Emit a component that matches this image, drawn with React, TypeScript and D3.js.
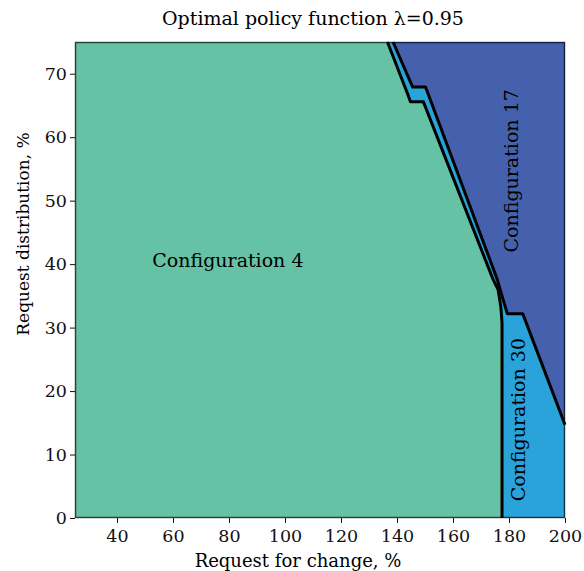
import React, { useEffect, useRef } from "react";
import * as d3 from "d3";

// axis ticks
const xTicks = [40, 60, 80, 100, 120, 140, 160, 180, 200];
const yTicks = [0, 10, 20, 30, 40, 50, 60, 70];

// boundary between Configuration 4 and Configuration 30
const edge4X = [136.6, 143.8, 144.8, 149.4, 174.3, 176.1, 177.1, 177.5, 177.5];
const edge4Y = [75, 66.8, 65.6, 65.6, 37.6, 36.0, 33.2, 30.8, 0];

// boundary between Configuration 30 and Configuration 17
const edge17X = [138.6, 145.6, 150.2, 175.8, 177.9, 179.4, 184.9, 200];
const edge17Y = [75, 67.9, 67.9, 37.6, 34.4, 32.2, 32.2, 14.7];

const regionNames = ["Configuration 4", "Configuration 17", "Configuration 30"];
const regionColors = ["#66c2a5", "#4560ad", "#2aa2da"];

const App = () => {
  const ref = useRef<SVGSVGElement>(null);

  useEffect(() => {
    const svg = d3.select(ref.current);
    svg.selectAll("*").remove();

    const width = 584, height = 571;
    const margin = { top: 42, right: 19, bottom: 53, left: 75 };
    const innerW = width - margin.left - margin.right;
    const innerH = height - margin.top - margin.bottom;
    const font = "'DejaVu Serif', serif";

    svg.attr("width", width).attr("height", height);

    const x = d3.scaleLinear().domain([25, 200]).range([0, innerW]);
    const y = d3.scaleLinear().domain([0, 75]).range([innerH, 0]);

    const g = svg.append("g")
      .attr("transform", `translate(${margin.left},${margin.top})`);

    const edge4 = edge4X.map((v, i) => [v, edge4Y[i]] as [number, number]);
    const edge17 = edge17X.map((v, i) => [v, edge17Y[i]] as [number, number]);

    const line = d3.line<[number, number]>().x(d => x(d[0])).y(d => y(d[1]));

    // Configuration 30 fills the background
    g.append("rect")
      .attr("width", innerW).attr("height", innerH)
      .attr("fill", regionColors[2]);

    // Configuration 4, left of its boundary
    const green: [number, number][] = [[25, 0], [25, 75], ...edge4];
    g.append("path").attr("d", line(green) + "Z").attr("fill", regionColors[0]);

    // Configuration 17, upper right
    const blue: [number, number][] = [...edge17, [200, 75]];
    g.append("path").attr("d", line(blue) + "Z").attr("fill", regionColors[1]);

    // contour lines
    [edge4, edge17].forEach(e => {
      g.append("path")
        .attr("d", line(e))
        .attr("fill", "none")
        .attr("stroke", "#000")
        .attr("stroke-width", 3)
        .attr("stroke-linejoin", "round");
    });

    // frame
    g.append("rect")
      .attr("x", 0.5).attr("y", 0.5)
      .attr("width", innerW - 1).attr("height", innerH - 1)
      .attr("fill", "none")
      .attr("stroke", "#000")
      .attr("stroke-opacity", 0.65)
      .attr("stroke-width", 1.5);

    // axes
    const xAxis = g.append("g")
      .attr("transform", `translate(0,${innerH})`)
      .call(d3.axisBottom(x).tickValues(xTicks).tickSize(5).tickSizeOuter(0));
    const yAxis = g.append("g")
      .call(d3.axisLeft(y).tickValues(yTicks).tickSize(5).tickSizeOuter(0));
    [xAxis, yAxis].forEach(a => {
      a.select(".domain").remove();
      a.selectAll("line").attr("stroke", "#111");
      a.selectAll("text")
        .attr("font-family", font)
        .attr("font-size", 17.5)
        .attr("fill", "#111");
    });
    xAxis.selectAll("text").attr("dy", "0.9em");

    // region labels
    g.append("text")
      .attr("x", x(79.6)).attr("y", y(39.6))
      .attr("text-anchor", "middle")
      .attr("font-family", font).attr("font-size", 19)
      .text(regionNames[0]);
    g.append("text")
      .attr("transform", `translate(${x(183.1)},${y(54.7)}) rotate(-90)`)
      .attr("text-anchor", "middle")
      .attr("font-family", font).attr("font-size", 19)
      .text(regionNames[1]);
    g.append("text")
      .attr("transform", `translate(${x(185.7)},${y(15.5)}) rotate(-90)`)
      .attr("text-anchor", "middle")
      .attr("font-family", font).attr("font-size", 19)
      .text(regionNames[2]);

    // titles
    svg.append("text")
      .attr("x", 313).attr("y", 25)
      .attr("text-anchor", "middle")
      .attr("font-family", font).attr("font-size", 19)
      .text("Optimal policy function λ=0.95");
    svg.append("text")
      .attr("x", 298).attr("y", 567)
      .attr("text-anchor", "middle")
      .attr("font-family", font).attr("font-size", 18)
      .text("Request for change, %");
    svg.append("text")
      .attr("transform", `translate(29,234) rotate(-90)`)
      .attr("text-anchor", "middle")
      .attr("font-family", font).attr("font-size", 17)
      .text("Request distribution, %");
  }, []);

  return <svg ref={ref} style={{ position: "absolute", left: 0, top: 0 }}></svg>;
};

export default App;
